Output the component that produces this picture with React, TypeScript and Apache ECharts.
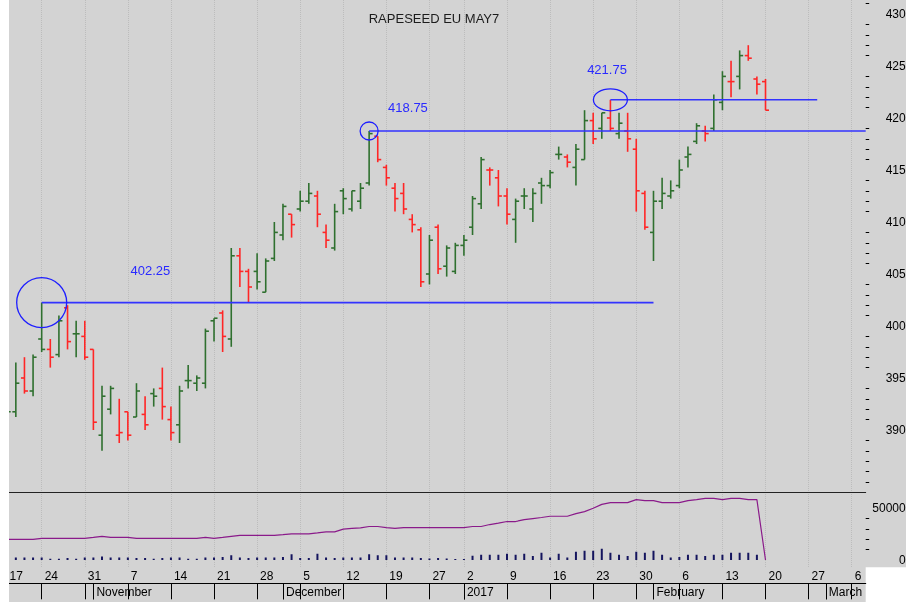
import { useEffect, useRef } from 'react';
import * as echarts from 'echarts';

// ---------- categories (trading days) ----------
const dates: string[] = [
  '2016-10-17', '2016-10-18', '2016-10-19', '2016-10-20', '2016-10-21',
  '2016-10-24', '2016-10-25', '2016-10-26', '2016-10-27', '2016-10-28',
  '2016-10-31', '2016-11-01', '2016-11-02', '2016-11-03', '2016-11-04',
  '2016-11-07', '2016-11-08', '2016-11-09', '2016-11-10', '2016-11-11',
  '2016-11-14', '2016-11-15', '2016-11-16', '2016-11-17', '2016-11-18',
  '2016-11-21', '2016-11-22', '2016-11-23', '2016-11-24', '2016-11-25',
  '2016-11-28', '2016-11-29', '2016-11-30', '2016-12-01', '2016-12-02',
  '2016-12-05', '2016-12-06', '2016-12-07', '2016-12-08', '2016-12-09',
  '2016-12-12', '2016-12-13', '2016-12-14', '2016-12-15', '2016-12-16',
  '2016-12-19', '2016-12-20', '2016-12-21', '2016-12-22', '2016-12-23',
  '2016-12-27', '2016-12-28', '2016-12-29', '2016-12-30', '2017-01-02',
  '2017-01-03', '2017-01-04', '2017-01-05', '2017-01-06',
  '2017-01-09', '2017-01-10', '2017-01-11', '2017-01-12', '2017-01-13',
  '2017-01-16', '2017-01-17', '2017-01-18', '2017-01-19', '2017-01-20',
  '2017-01-23', '2017-01-24', '2017-01-25', '2017-01-26', '2017-01-27',
  '2017-01-30', '2017-01-31', '2017-02-01', '2017-02-02', '2017-02-03',
  '2017-02-06', '2017-02-07', '2017-02-08', '2017-02-09', '2017-02-10',
  '2017-02-13', '2017-02-14', '2017-02-15', '2017-02-16', '2017-02-17',
  '2017-02-20', '2017-02-21', '2017-02-22', '2017-02-23', '2017-02-24',
  '2017-02-27', '2017-02-28', '2017-03-01', '2017-03-02', '2017-03-03',
  '2017-03-06', '2017-03-07', '2017-03-08',
];

// ---------- price bars, from 2016-10-18 ----------
const BAR_START = '2016-10-18';
const opens = [
  392.0, 391.75, 395.0, 393.75, 398.75, 397.75, 397.25, 401.75, 399.25, 399.0,
  397.75, 389.5, 392.0, 389.5, 391.75, 391.25, 391.5, 393.5, 394.0, 391.0,
  390.5, 394.75, 394.5, 394.5, 400.5, 401.25, 398.75, 406.75, 405.25, 405.25,
  403.25, 406.5, 408.75, 410.75, 411.25, 412.0, 412.5, 409.0, 407.5, 413.0,
  411.25, 412.0, 413.75, 418.25, 415.25, 413.25, 412.75, 410.25, 409.25, 405.0,
  409.5, 405.75, 405.25, 407.75, 409.5, 411.75, 415.0, 414.25, 412.5, 410.25,
  412.5, 411.25, 413.75, 413.5, 416.5, 416.25, 415.25, 416.0, 419.75, 419.0,
  420.0, 418.5, 418.75, 417.0, 412.75, 409.0, 412.0, 412.5, 413.5, 416.25,
  417.75, 418.75, 419.0, 421.5, 423.5, 424.0, 426.0, 423.75, 423.5,
];
const highs = [
  392.5, 396.5, 397.0, 397.25, 402.25, 398.75, 401.0, 402.0, 400.5, 400.5,
  397.75, 394.25, 394.25, 393.0, 391.75, 394.5, 393.25, 394.0, 396.0, 392.25,
  394.25, 396.25, 395.25, 399.75, 400.75, 401.5, 407.5, 407.5, 405.5, 407.0,
  406.5, 410.0, 411.75, 410.75, 413.0, 413.75, 413.0, 409.75, 411.75, 413.25,
  413.0, 413.75, 418.75, 418.25, 415.5, 413.75, 413.75, 410.75, 409.5, 408.75,
  409.75, 407.75, 408.0, 408.75, 412.5, 416.25, 415.25, 415.0, 413.25, 412.25,
  413.25, 413.25, 414.25, 415.0, 417.25, 416.5, 417.5, 420.75, 420.5, 420.5,
  421.75, 420.5, 420.5, 418.0, 413.0, 413.0, 414.25, 414.0, 416.0, 417.25,
  419.5, 419.25, 422.25, 424.5, 425.5, 426.5, 427.0, 424.0, 423.75,
];
const lows = [
  391.25, 391.25, 393.5, 393.25, 397.5, 396.0, 397.0, 397.75, 397.0, 396.75,
  390.0, 388.0, 391.5, 388.75, 389.0, 391.25, 390.0, 392.25, 391.0, 389.0,
  388.75, 394.0, 393.75, 394.0, 398.5, 397.5, 398.0, 403.75, 402.25, 403.5,
  403.25, 406.25, 408.25, 408.5, 411.0, 411.75, 409.5, 407.5, 407.25, 410.75,
  411.0, 411.25, 413.5, 415.75, 413.5, 411.0, 410.75, 409.0, 403.75, 404.0,
  405.0, 404.75, 405.0, 406.75, 408.75, 411.25, 413.5, 411.5, 409.75, 408.0,
  411.25, 410.0, 411.75, 413.25, 416.0, 415.25, 413.5, 416.0, 417.5, 418.0,
  418.75, 418.0, 416.75, 411.0, 409.25, 406.25, 411.25, 412.25, 413.25, 415.25,
  417.5, 417.75, 418.75, 420.75, 422.0, 422.75, 425.5, 422.25, 420.75,
];
const closes = [
  391.75, 394.5, 393.75, 397.0, 397.75, 397.0, 400.5, 398.5, 399.25, 397.0,
  390.75, 393.25, 394.0, 389.75, 389.5, 393.75, 390.5, 393.25, 392.25, 389.75,
  393.75, 394.75, 395.0, 399.5, 400.75, 399.0, 406.75, 405.25, 403.75, 404.25,
  406.25, 409.0, 411.5, 409.75, 412.0, 412.75, 410.75, 408.25, 411.0, 412.25,
  413.0, 413.25, 418.5, 416.0, 414.25, 412.25, 411.25, 409.75, 404.25, 408.25,
  405.5, 407.5, 407.75, 408.25, 412.25, 416.0, 415.0, 412.5, 410.75, 412.0,
  412.5, 412.75, 413.5, 414.75, 416.5, 415.75, 417.0, 419.75, 418.0, 420.5,
  419.0, 419.5, 418.0, 413.0, 409.5, 412.0, 412.75, 413.0, 415.0, 416.5,
  419.25, 418.5, 421.75, 424.0, 423.5, 426.0, 425.75, 423.25, 420.75,
];
const volumes = [
  2000, 2300, 2300, 2300, 2500, 1300, 1300, 2000, 1300, 2300,
  2500, 3500, 2300, 2300, 2300, 2000, 2000, 1300, 2000, 2300,
  2300, 1300, 1300, 2300, 2500, 3000, 4500, 2300, 2000, 2300,
  2300, 2500, 3000, 5500, 2000, 2000, 6000, 2300, 2000, 2300,
  2300, 2500, 5500, 4500, 4500, 2500, 2300, 2300, 2000, 1500,
  2000, 1500, 1000, 1000, 4200, 5000, 5000, 5000, 6000, 5000,
  6000, 3800, 7000, 2500, 6000, 2500, 8000, 9000, 9000, 10800,
  7000, 5000, 3800, 8000, 7000, 9000, 5000, 2500, 2800, 5000,
  5000, 3800, 5000, 5000, 7000, 7000, 7000, 5000, 0,
];
const openInterest = [
  19900, 19900, 19900, 19900, 20900, 20900, 20900, 20900, 20900, 20900,
  21800, 22800, 21800, 21800, 21800, 20900, 20900, 20900, 20900, 20900,
  20900, 20900, 20900, 21800, 20900, 21800, 22800, 23800, 23800, 23800,
  23800, 23800, 24500, 25300, 25300, 25300, 26200, 27200, 27200, 29800,
  30500, 31100, 32400, 32400, 31400, 30500, 31400, 31400, 31400, 31400,
  31400, 31400, 31400, 31400, 32400, 32400, 34300, 35600, 37200, 37200,
  39100, 40100, 41100, 42300, 42300, 42300, 44900, 46800, 50000, 53800,
  55500, 55500, 55500, 58400, 57400, 57400, 55500, 55500, 55500, 57400,
  58400, 59600, 59600, 58400, 59600, 59600, 58400, 58400, 0,
];

// ---------- axis ticks ----------
const dayTickDates = [
  '2016-10-17', '2016-10-24', '2016-10-31', '2016-11-07', '2016-11-14', '2016-11-21',
  '2016-11-28', '2016-12-05', '2016-12-12', '2016-12-19', '2016-12-27', '2017-01-02',
  '2017-01-09', '2017-01-16', '2017-01-23', '2017-01-30', '2017-02-06', '2017-02-13',
  '2017-02-20', '2017-02-27', '2017-03-06',
];
const monthTickDates = ['2016-11-01', '2016-12-01', '2017-01-02', '2017-02-01', '2017-03-01'];
const monthTickLabels = ['November', 'December', '2017', 'February', 'March'];
const priceTickLabels = [390, 395, 400, 405, 410, 415, 420, 425, 430];
const priceMinorTicks = [385, 386, 387, 388, 389, 391, 392, 393, 394, 396, 397, 398, 399, 401, 402, 403, 404, 406, 407, 408, 409, 411, 412, 413, 414, 416, 417, 418, 419, 421, 422, 423, 424, 426, 427, 428, 429, 431];
const volumeTickLabels = [0, 50000];
const volumeMinorTicks = [10000, 20000, 30000, 40000];

// ---------- annotations ----------
const annLevels = [402.25, 418.75, 421.75];
const annStartDates = ['2016-10-24', '2016-12-15', '2017-01-25'];
const annEndDates = ['2017-02-01', null, '2017-02-28'];
const annLabelX = [15.3, 45.2, 68.3];
const annLabelY = [405.3, 421.05, 424.7];
const TITLE = 'RAPESEED EU MAY7';

// ---------- layout / style ----------
const CW = 897;
const CH = 602;
const PX_DAY = 8.617;
const X0 = -10.4; // chart-x of dates[0]
const GRID_LEFT = -12;
const AXIS_X = 856.7;
const GRID_W = AXIS_X - GRID_LEFT;
const GRID_RIGHT = CW - AXIS_X;
const LABEL_MARGIN = 40;
const X_MIN = (GRID_LEFT - X0) / PX_DAY;
const X_MAX = (AXIS_X - X0) / PX_DAY;
const P_MAX = 420 + 118 / 10.4;
const P_MIN = 420 - (492 - 118) / 10.4;
const V_PER_PX = 50000 / 51.7;
const V_MAX = (560 - 492) * V_PER_PX;
const V_MIN = -(567.3 - 560) * V_PER_PX;

const BG = '#d3d3d3';
const GREEN = '#2f702f';
const RED = '#ff2626';
const NAVY = '#15155e';
const PURPLE = '#8a1a8a';
const BLUE = '#3232ff';
const FONT = '"Liberation Sans", Arial, sans-serif';
const ellipseR = [[25, 25], [9, 9], [17, 11]];

export default function App() {
  const ref = useRef<HTMLDivElement>(null);

  useEffect(() => {
    if (!ref.current) return;
    const chart = echarts.init(ref.current, undefined, { renderer: 'svg' });

    const idxOf = (d: string) => dates.indexOf(d);
    const start = idxOf(BAR_START);
    const ohlc = opens.map((o, k) => {
      const prev = k > 0 ? closes[k - 1] : -Infinity;
      return [start + k, o, highs[k], lows[k], closes[k], closes[k] > prev ? 1 : 0];
    });
    const vol = volumes.map((v, k) => [start + k, v]);
    const oi = openInterest.map((v, k) => [start + k, v]);
    const dayTicks = dayTickDates.map(idxOf);
    const monthTicks = monthTickDates.map(idxOf);
    const ann = annLevels.map((lv, k) => [
      idxOf(annStartDates[k]),
      annEndDates[k] ? idxOf(annEndDates[k] as string) : X_MAX,
      lv,
      annLabelX[k],
      annLabelY[k],
      k,
    ]);

    const axisText = { fontFamily: FONT, fontSize: 12, color: '#000' };
    const gridBase = { left: GRID_LEFT, right: GRID_RIGHT, containLabel: false, outerBoundsMode: 'none' };

    const option: any = {
      animation: false,
      graphic: [
        { type: 'rect', z: -10, silent: true, shape: { x: 0, y: 0, width: CW, height: 567.3 }, style: { fill: BG } },
        { type: 'rect', z: -10, silent: true, shape: { x: 0, y: 567, width: AXIS_X, height: CH - 567 }, style: { fill: BG } },
        {
          type: 'text', x: 425, y: 18, z: 10,
          style: { text: TITLE, font: `13px ${FONT}`, fill: '#1c1c1c', textAlign: 'center', textVerticalAlign: 'middle', align: 'center', verticalAlign: 'middle' },
        },
      ],
      grid: [
        { ...gridBase, top: 0, height: 492 },
        { ...gridBase, top: 492, height: 75.3 },
        { ...gridBase, top: 567.3, height: 16 },
      ],
      xAxis: [
        {
          gridIndex: 0, type: 'value', min: X_MIN, max: X_MAX, position: 'bottom',
          axisLine: { show: true, lineStyle: { color: '#222', width: 1 } },
          axisTick: { show: false, customValues: dayTicks },
          axisLabel: { show: false },
          splitLine: { show: true, lineStyle: { color: '#bcbcbc', type: 'dotted', width: 1 } },
        },
        {
          gridIndex: 1, type: 'value', min: X_MIN, max: X_MAX, position: 'bottom',
          axisLine: { show: false },
          axisTick: { show: false, customValues: dayTicks },
          axisLabel: { show: false },
          splitLine: { show: true, lineStyle: { color: '#bcbcbc', type: 'dotted', width: 1 } },
        },
        {
          gridIndex: 2, type: 'value', min: X_MIN, max: X_MAX, position: 'top',
          axisLine: { show: true, lineStyle: { color: '#000', width: 1 } },
          axisTick: { show: true, inside: true, length: 16, customValues: [...dayTicks, ...monthTicks], lineStyle: { color: '#000', width: 1 } },
          axisLabel: {
            show: true, inside: true, margin: 3, align: 'left', padding: [0, 0, 0, 3],
            customValues: dayTicks,
            formatter: (v: number) => {
              const i = Math.round(v);
              const txt = String(Number(dates[i].slice(8)));
              return i === dayTicks[0] ? `{first|${txt}}` : txt;
            },
            rich: { first: { padding: [0, 0, 0, 8], fontFamily: FONT, fontSize: 12, color: '#000' } },
            ...axisText,
          },
          splitLine: { show: false },
        },
        {
          gridIndex: 2, type: 'value', min: X_MIN, max: X_MAX, position: 'bottom',
          axisLine: { show: true, lineStyle: { color: '#000', width: 1 } },
          axisTick: { show: true, length: 16, customValues: monthTicks, lineStyle: { color: '#000', width: 1 } },
          axisLabel: {
            show: true, margin: 3, align: 'left', padding: [0, 0, 0, 3],
            customValues: monthTicks,
            formatter: (v: number) => monthTickLabels[monthTicks.indexOf(Math.round(v))] ?? '',
            ...axisText,
          },
          splitLine: { show: false },
        },
      ],
      yAxis: [
        {
          gridIndex: 0, type: 'value', position: 'right', min: P_MIN, max: P_MAX,
          axisLine: { show: true, lineStyle: { color: '#000', width: 1 } },
          axisTick: { show: true, length: 8, customValues: priceTickLabels, lineStyle: { color: '#000' } },
          axisLabel: { show: true, customValues: priceTickLabels, margin: LABEL_MARGIN, align: 'right', formatter: (v: number) => String(v), ...axisText },
          splitLine: { show: false },
        },
        {
          gridIndex: 0, type: 'value', position: 'left', offset: -GRID_W, min: P_MIN, max: P_MAX,
          axisLine: { show: false },
          axisTick: { show: true, inside: true, length: 3.5, customValues: priceMinorTicks, lineStyle: { color: '#000' } },
          axisLabel: { show: false },
          splitLine: { show: false },
        },
        {
          gridIndex: 1, type: 'value', position: 'right', min: V_MIN, max: V_MAX,
          axisLine: { show: true, lineStyle: { color: '#000', width: 1 } },
          axisTick: { show: true, length: 8, customValues: volumeTickLabels, lineStyle: { color: '#000' } },
          axisLabel: { show: true, customValues: volumeTickLabels, margin: LABEL_MARGIN, align: 'right', formatter: (v: number) => String(v), ...axisText },
          splitLine: { show: false },
        },
        {
          gridIndex: 1, type: 'value', position: 'left', offset: -GRID_W, min: V_MIN, max: V_MAX,
          axisLine: { show: false },
          axisTick: { show: true, inside: true, length: 3.5, customValues: volumeMinorTicks, lineStyle: { color: '#000' } },
          axisLabel: { show: false },
          splitLine: { show: false },
        },
        { gridIndex: 2, type: 'value', show: false, min: 0, max: 1, splitLine: { show: false } },
      ],
      series: [
        {
          type: 'custom', name: 'price', xAxisIndex: 0, yAxisIndex: 0, z: 3, clip: true,
          data: ohlc,
          renderItem: (_p: any, api: any) => {
            const i = api.value(0);
            const o = api.coord([i, api.value(1)]);
            const h = api.coord([i, api.value(2)]);
            const l = api.coord([i, api.value(3)]);
            const c = api.coord([i, api.value(4)]);
            const style = { stroke: api.value(5) > 0 ? GREEN : RED, lineWidth: 1.6 };
            return {
              type: 'group',
              children: [
                { type: 'line', shape: { x1: h[0], y1: h[1], x2: l[0], y2: l[1] }, style },
                { type: 'line', shape: { x1: o[0] - 3.5, y1: o[1], x2: o[0], y2: o[1] }, style },
                { type: 'line', shape: { x1: c[0], y1: c[1], x2: c[0] + 3.5, y2: c[1] }, style },
              ],
            };
          },
        },
        {
          type: 'custom', name: 'levels', xAxisIndex: 0, yAxisIndex: 0, z: 4, clip: false,
          data: ann,
          renderItem: (_p: any, api: any) => {
            const s = api.coord([api.value(0), api.value(2)]);
            const e = api.coord([api.value(1), api.value(2)]);
            const t = api.coord([api.value(3), api.value(4)]);
            const r = ellipseR[api.value(5)];
            return {
              type: 'group',
              children: [
                { type: 'line', shape: { x1: s[0], y1: s[1], x2: e[0], y2: e[1] }, style: { stroke: BLUE, lineWidth: 1.6 } },
                { type: 'ellipse', shape: { cx: s[0], cy: s[1], rx: r[0], ry: r[1] }, style: { fill: 'none', stroke: '#1e1eff', lineWidth: 1.3 } },
                {
                  type: 'text', x: t[0], y: t[1],
                  style: {
                    text: api.value(2).toFixed(2), font: `13px ${FONT}`, fill: '#2a2aff',
                    textAlign: 'left', textVerticalAlign: 'middle', align: 'left', verticalAlign: 'middle',
                  },
                },
              ],
            };
          },
        },
        {
          type: 'custom', name: 'volume', xAxisIndex: 1, yAxisIndex: 2, z: 3, clip: true,
          data: vol,
          renderItem: (_p: any, api: any) => {
            const i = api.value(0);
            const p0 = api.coord([i, 0]);
            const p1 = api.coord([i, api.value(1)]);
            return { type: 'rect', shape: { x: p0[0] - 1, y: p1[1], width: 2, height: p0[1] - p1[1] }, style: { fill: NAVY } };
          },
        },
        {
          type: 'line', name: 'open interest', xAxisIndex: 1, yAxisIndex: 2, z: 4, clip: true,
          data: oi, symbol: 'none', showSymbol: false,
          lineStyle: { color: PURPLE, width: 1.2 },
        },
      ],
    };

    chart.setOption(option);
    return () => chart.dispose();
  }, []);

  return <div ref={ref} style={{ position: 'fixed', left: 9, top: 0, width: CW, height: CH }} />;
}
